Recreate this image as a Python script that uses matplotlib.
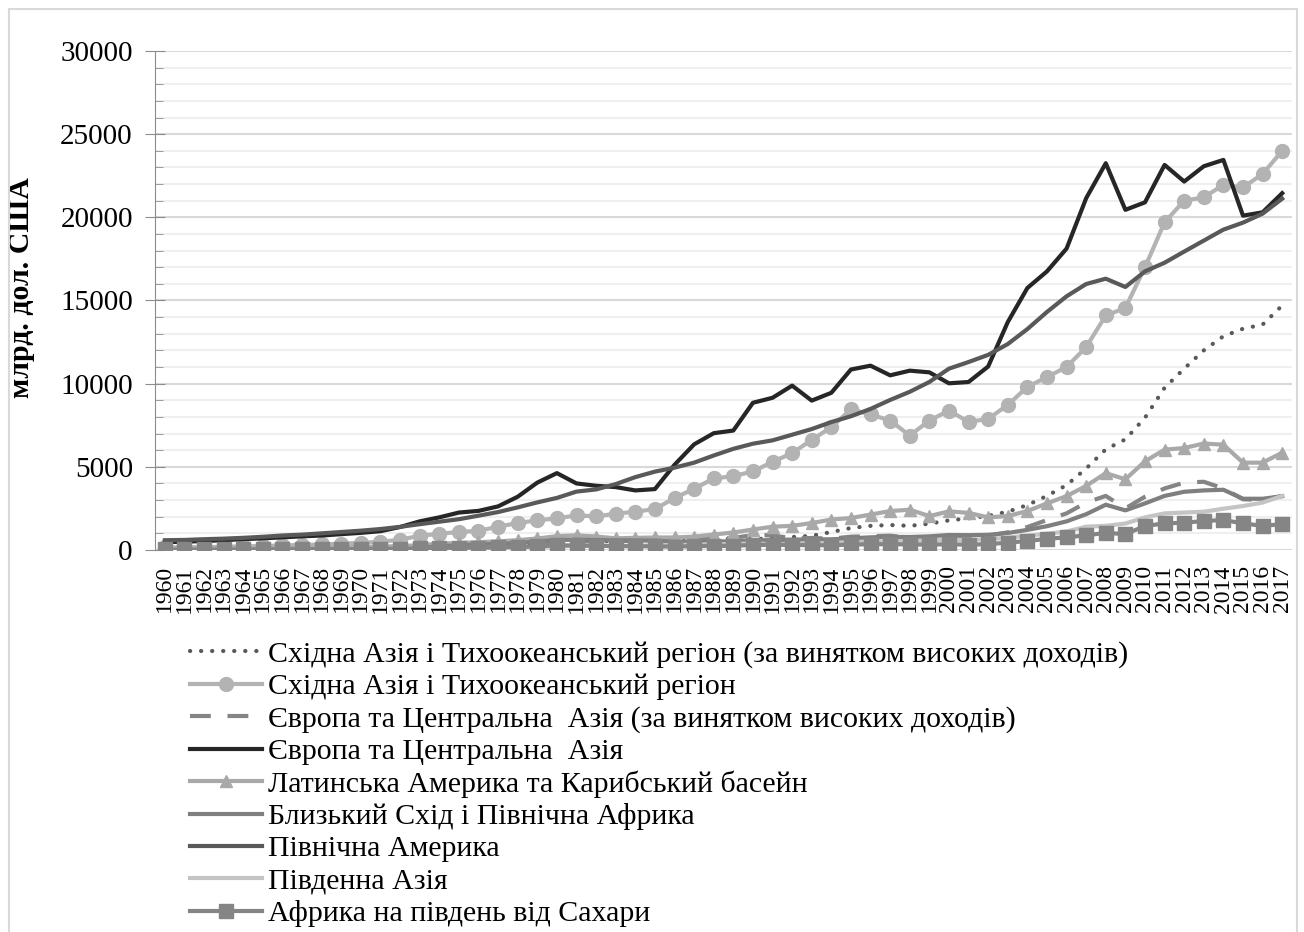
import matplotlib.pyplot as plt
from matplotlib.patches import Rectangle
import numpy as np

plt.rcParams['font.family'] = ['Liberation Serif', 'DejaVu Serif']

years = [str(y) for y in range(1960, 2018)]

# млрд. дол. США
eap_excl = [90, 80, 75, 85, 95, 105, 115, 115, 120, 135, 150, 160, 185, 235, 275, 300, 320, 360, 380, 440,
            500, 520, 520, 540, 550, 560, 530, 550, 640, 680, 650, 700, 780, 850, 1080, 1320, 1450, 1500, 1450, 1580,
            1780, 1900, 2050, 2300, 2700, 3250, 3900, 4900, 6050, 6650, 7950, 9750, 10900, 12000, 12850, 13300, 13550, 14700]
eap = [150, 160, 170, 190, 215, 240, 270, 300, 330, 380, 430, 490, 620, 850, 980, 1080, 1150, 1400, 1620, 1780,
       1900, 2080, 2020, 2180, 2300, 2460, 3120, 3680, 4300, 4440, 4720, 5300, 5820, 6620, 7380, 8450, 8150, 7780, 6880, 7780,
       8380, 7700, 7880, 8720, 9800, 10400, 11000, 12200, 14100, 14550, 17000, 19700, 21000, 21200, 21950, 21800, 22600, 24000]
eca_excl = [40, 45, 50, 55, 60, 70, 80, 90, 100, 110, 120, 140, 160, 190, 230, 270, 300, 330, 380, 440,
            500, 520, 530, 540, 550, 570, 600, 640, 690, 720, 900, 880, 700, 720, 680, 800, 830, 860, 740, 620,
            700, 730, 850, 1060, 1380, 1800, 2200, 2850, 3250, 2500, 3200, 3700, 4050, 4100, 3700, 3050, 3000, 3250]
eca = [470, 500, 540, 590, 650, 700, 760, 820, 870, 950, 1030, 1130, 1380, 1720, 1960, 2250, 2350, 2620, 3200, 4050,
       4620, 4000, 3860, 3780, 3580, 3660, 5120, 6350, 7020, 7180, 8850, 9150, 9880, 8980, 9450, 10850, 11080, 10500, 10780, 10680,
       10020, 10100, 11030, 13700, 15750, 16750, 18120, 21150, 23250, 20450, 20900, 23150, 22150, 23070, 23450, 20100, 20300, 21450]
lac = [80, 85, 90, 95, 105, 115, 125, 135, 145, 160, 180, 200, 230, 290, 380, 420, 470, 520, 590, 690,
       830, 880, 810, 700, 730, 750, 750, 800, 930, 1050, 1230, 1400, 1450, 1620, 1830, 1920, 2130, 2340, 2420, 2040,
       2320, 2230, 1960, 2040, 2340, 2800, 3240, 3850, 4620, 4250, 5330, 6030, 6130, 6400, 6330, 5250, 5250, 5850]
mena = [20, 22, 25, 28, 32, 36, 40, 44, 50, 56, 65, 80, 95, 125, 230, 270, 330, 370, 410, 510,
        600, 620, 600, 580, 570, 560, 490, 510, 510, 520, 580, 590, 620, 630, 640, 700, 760, 790, 780, 820,
        900, 890, 910, 1020, 1210, 1430, 1720, 2150, 2720, 2380, 2800, 3250, 3500, 3580, 3620, 3080, 3080, 3230]
n_america = [585, 604, 647, 681, 730, 793, 870, 922, 1000, 1080, 1160, 1260, 1390, 1550, 1700, 1850, 2060, 2280, 2560, 2860,
             3130, 3510, 3640, 3960, 4380, 4710, 4950, 5250, 5680, 6080, 6390, 6590, 6930, 7270, 7690, 8040, 8480, 9020, 9510, 10100,
             10900, 11300, 11730, 12380, 13280, 14310, 15250, 15990, 16310, 15810, 16750, 17270, 17940, 18600, 19260, 19680, 20220, 21120]
s_asia = [48, 51, 54, 60, 68, 72, 62, 70, 72, 78, 82, 87, 88, 100, 115, 120, 118, 135, 155, 175,
          220, 235, 240, 255, 255, 275, 295, 320, 350, 355, 400, 350, 370, 380, 430, 470, 500, 530, 540, 580,
          600, 610, 640, 740, 860, 980, 1110, 1400, 1450, 1590, 1960, 2200, 2250, 2300, 2480, 2640, 2850, 3250]
ssa = [30, 32, 34, 37, 40, 44, 47, 48, 51, 57, 62, 68, 75, 95, 120, 135, 145, 160, 180, 220,
       280, 270, 255, 230, 225, 215, 200, 230, 240, 250, 300, 310, 300, 290, 280, 330, 340, 350, 330, 330,
       340, 320, 350, 440, 540, 670, 760, 880, 1030, 950, 1440, 1600, 1640, 1740, 1800, 1600, 1450, 1550]

labels = ['Східна Азія і Тихоокеанський регіон (за винятком високих доходів)',
          'Східна Азія і Тихоокеанський регіон',
          'Європа та Центральна  Азія (за винятком високих доходів)',
          'Європа та Центральна  Азія',
          'Латинська Америка та Карибський басейн',
          'Близький Схід і Північна Африка',
          'Північна Америка',
          'Південна Азія',
          'Африка на південь від Сахари']

fig = plt.figure(figsize=(13.04, 9.32), dpi=100)
ax = fig.add_axes([0.1189, 0.4099, 0.8719, 0.5354])

x = np.arange(len(years))
lw = 3.0
ax.plot(x, eap_excl, color='#595959', lw=lw, linestyle=(0, (0.05, 2.6)), dash_capstyle='round', label=labels[0])
ax.plot(x, eap, color='#b3b3b3', lw=lw, marker='o', ms=10, label=labels[1])
ax.plot(x, eca_excl, color='#858585', lw=lw, linestyle=(0, (5, 4)), label=labels[2])
ax.plot(x, eca, color='#262626', lw=lw, label=labels[3])
ax.plot(x, lac, color='#a9a9a9', lw=lw, marker='^', ms=9, label=labels[4])
ax.plot(x, mena, color='#7f7f7f', lw=lw, label=labels[5])
ax.plot(x, n_america, color='#595959', lw=lw, label=labels[6])
ax.plot(x, s_asia, color='#c4c4c4', lw=lw, label=labels[7])
ax.plot(x, ssa, color='#858585', lw=lw, marker='s', ms=10, label=labels[8])

ax.set_xlim(-0.5, len(years) - 0.5)
ax.set_ylim(0, 30000)
ax.set_yticks(np.arange(0, 30001, 5000))
ax.set_yticks(np.arange(0, 30001, 1000), minor=True)
ax.grid(True, which='major', axis='y', color='#d9d9d9', lw=1.5)
ax.grid(True, which='minor', axis='y', color='#efefef', lw=1.5)
ax.set_axisbelow(True)
ax.set_xticks(x)
ax.set_xticklabels(years, rotation=90, fontsize=17)
ax.tick_params(axis='x', length=0, pad=11)
ax.tick_params(axis='y', which='major', labelsize=21, direction='inout', length=14, color='#8c8c8c', pad=9)
ax.tick_params(axis='y', which='minor', direction='in', length=6, color='#8c8c8c')
for s in ['top', 'right', 'bottom']:
    ax.spines[s].set_visible(False)
ax.spines['left'].set_color('#8c8c8c')
ax.set_ylabel('млрд. дол. США', fontsize=21.5, fontweight='bold')
ax.yaxis.set_label_coords(-0.106, 0.525)

fig.legend(loc='upper left', bbox_to_anchor=(0.1365, 0.3255), frameon=False, fontsize=21.5,
           handlelength=2.4, handletextpad=0.2, labelspacing=0.18, borderaxespad=0)

fig.patches.append(Rectangle((9 / 1304, -0.05), 1288 / 1304, 1.05 - 9 / 932, transform=fig.transFigure,
                             fill=False, edgecolor='#d9d9d9', lw=1.5))

fig.savefig('out.png', dpi=100)
